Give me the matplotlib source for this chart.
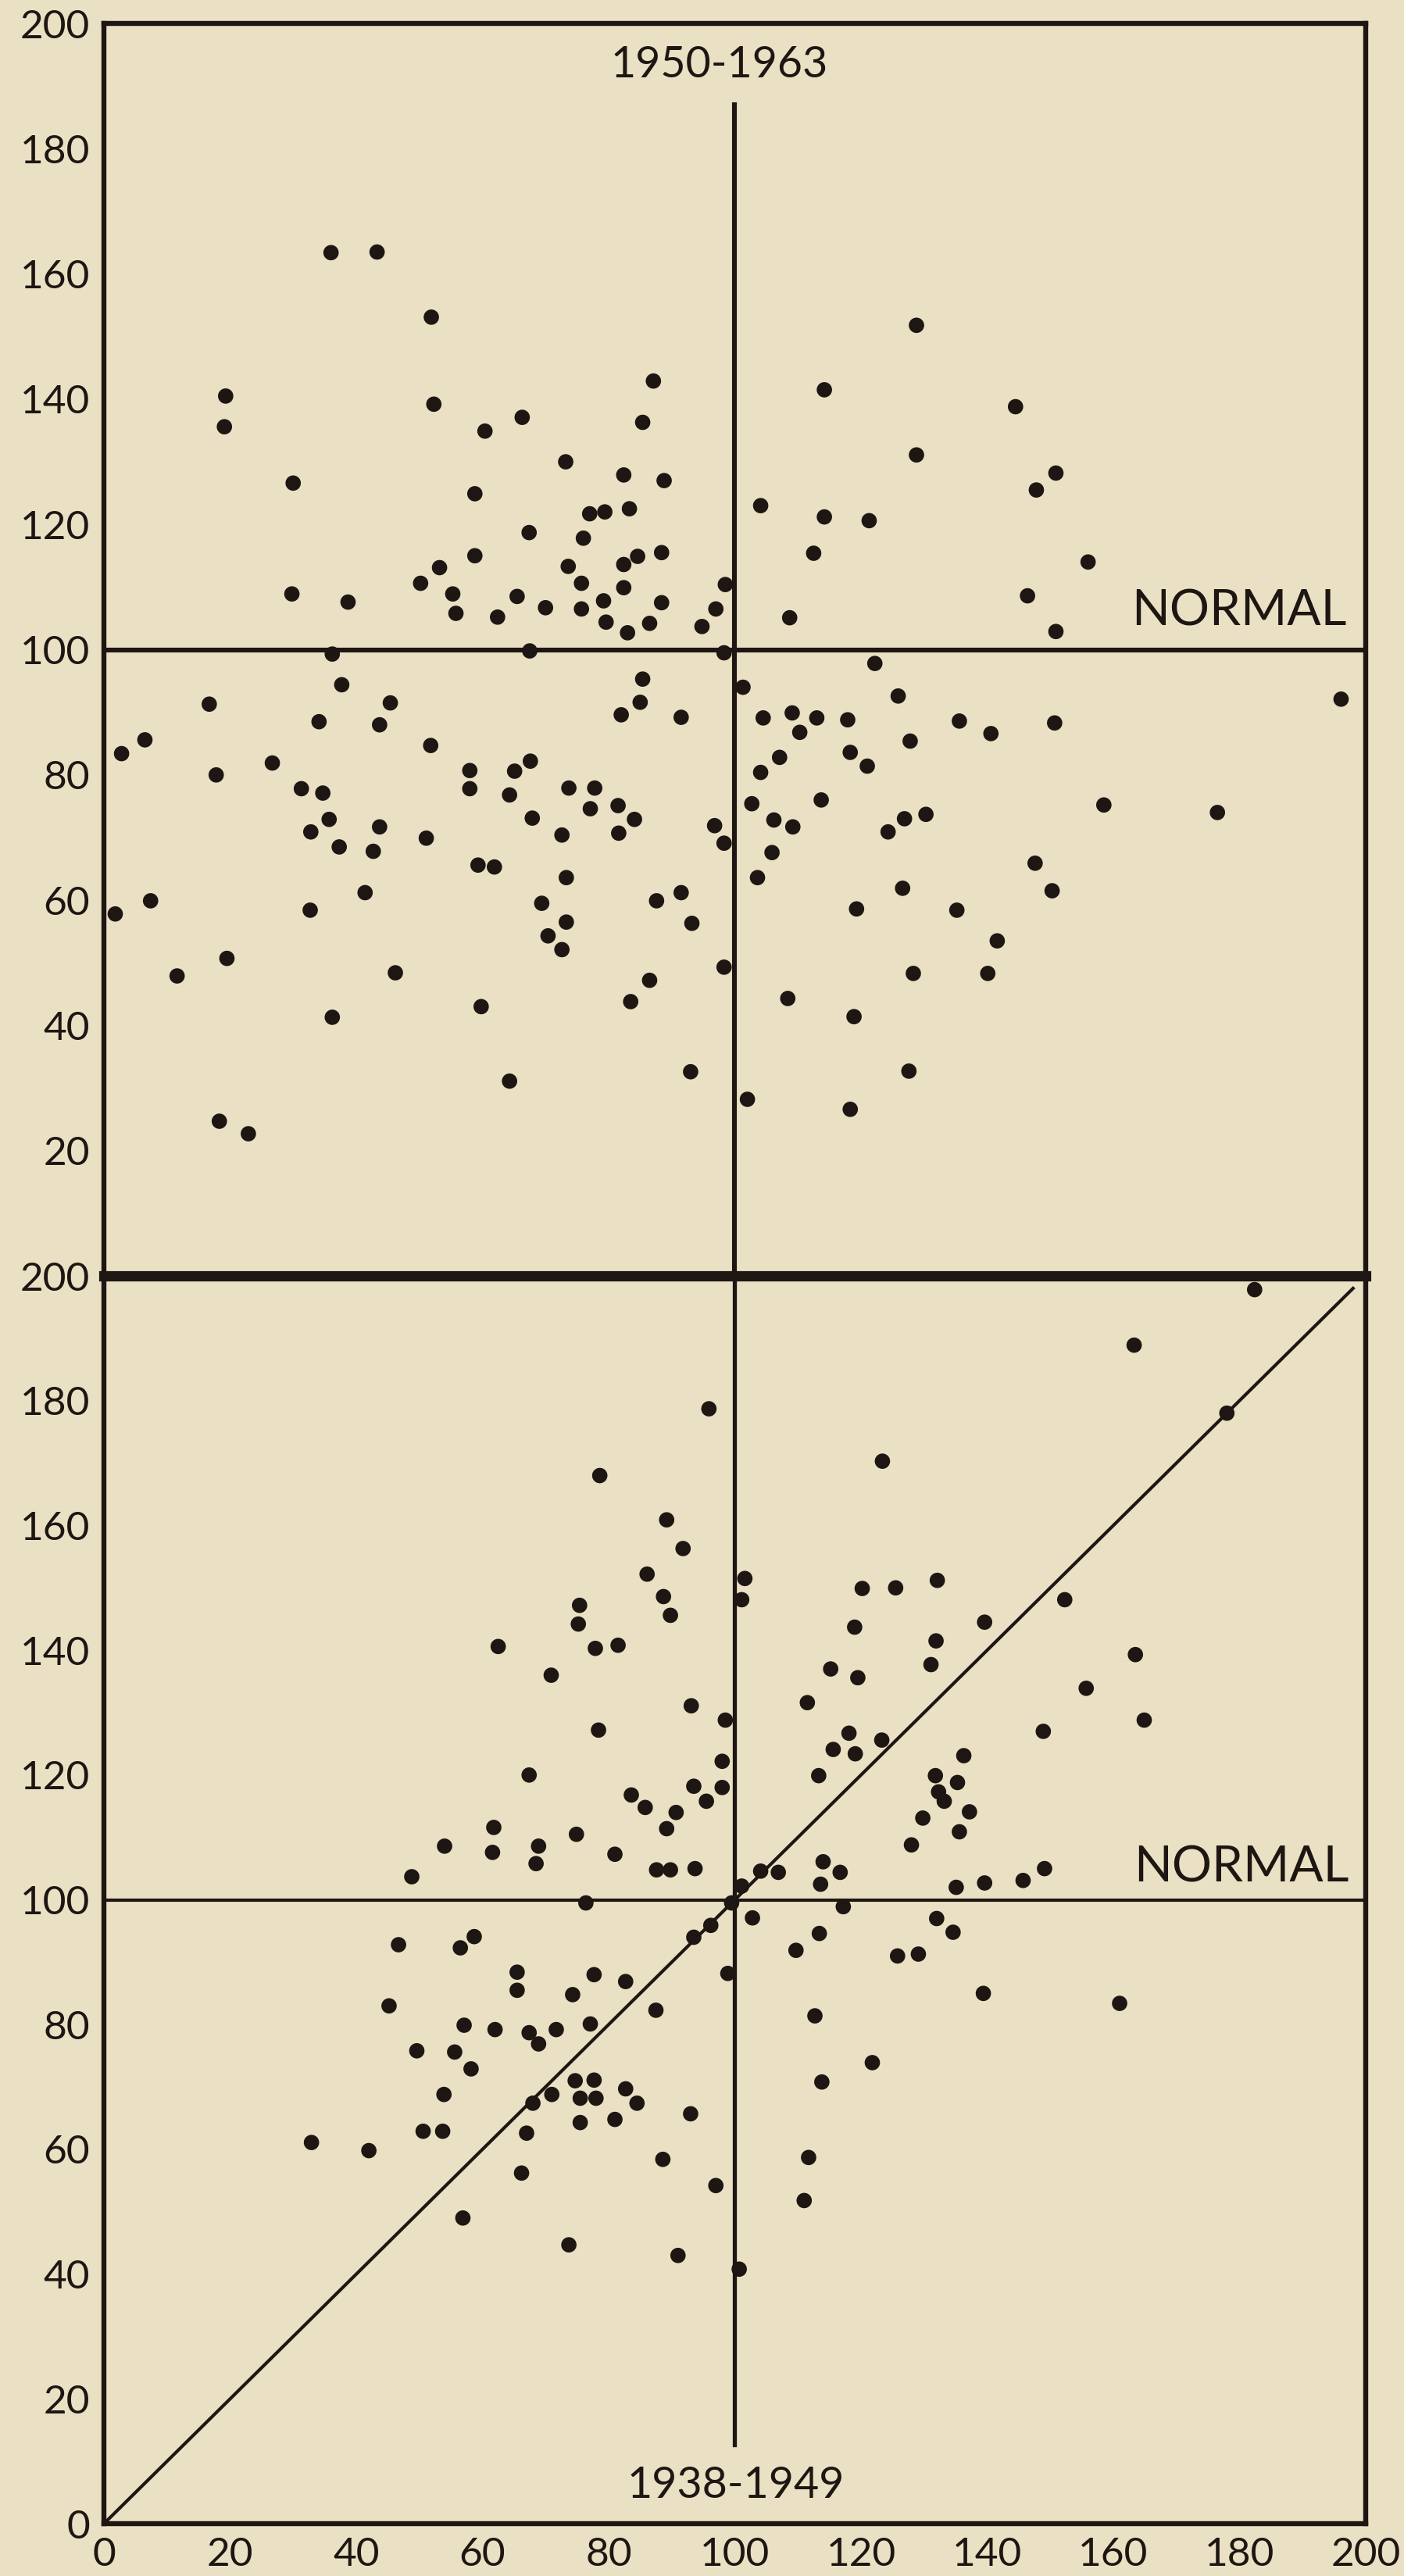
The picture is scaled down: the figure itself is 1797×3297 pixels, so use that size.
import matplotlib
matplotlib.use("Agg")
import matplotlib.pyplot as plt

# period 1950-1963 (upper panel), x = index, y = index
top_x = [36.0, 43.3, 51.9, 19.3, 19.1, 52.3, 60.4, 66.3, 87.1, 85.4, 73.2, 82.4, 88.8, 30.0,
         58.8, 77.0, 79.4, 83.3, 67.4, 76.0, 58.8, 88.4, 84.6, 82.4, 53.2, 73.6, 50.2, 75.7,
         82.4, 98.5, 29.8, 55.3, 38.7, 55.8, 65.5, 70.0, 62.4, 75.7, 79.2, 88.4, 79.6, 83.0,
         86.5, 97.0, 94.8,
         128.8, 114.2, 144.5, 128.8, 150.9, 147.8, 104.1, 114.2, 121.3, 112.5, 156.0, 146.4,
         108.7, 150.9,
         36.2, 67.5, 98.3, 37.7, 85.4, 16.7, 45.4, 85.0, 34.1, 43.7, 82.0, 91.5, 6.5, 2.8,
         51.8, 17.8, 26.7, 58.0, 58.0, 65.1, 67.6, 64.3, 31.3, 34.7, 35.7, 32.8, 37.3, 43.7,
         42.7, 51.1, 67.9, 72.6, 73.7, 77.8, 77.1, 81.5, 84.1, 81.6, 96.8, 98.3, 59.3, 61.9,
         73.3, 41.4, 1.8, 7.4, 32.7, 69.4, 70.4, 73.3, 72.6, 87.6, 91.5, 93.2, 11.6, 19.5,
         46.2, 86.5, 83.5, 98.3, 36.2, 59.8, 64.3, 93.0, 18.3, 22.9,
         122.2, 101.3, 125.9, 104.5, 109.1, 113.0, 117.9, 110.3, 127.8, 135.6, 140.6, 150.7,
         196.1, 107.1, 104.1, 118.3, 121.0, 102.7, 113.7, 106.2, 109.2, 124.3, 126.9, 130.3,
         158.5, 176.5, 105.9, 103.6, 147.6, 150.3, 126.6, 119.3, 135.2, 141.6, 140.1, 128.3,
         108.4, 118.9, 127.6, 102.0, 118.3]
top_y = [163.4, 163.5, 153.1, 140.5, 135.6, 139.2, 134.9, 137.1, 142.9, 136.3, 130.0, 127.9,
         127.0, 126.6, 124.9, 121.7, 122.0, 122.5, 118.7, 117.8, 115.0, 115.5, 114.9, 113.6,
         113.1, 113.3, 110.6, 110.6, 109.9, 110.4, 108.9, 108.9, 107.6, 105.8, 108.5, 106.7,
         105.2, 106.5, 107.8, 107.5, 104.4, 102.7, 104.2, 106.5, 103.7,
         151.8, 141.5, 138.8, 131.1, 128.2, 125.5, 123.0, 121.2, 120.6, 115.4, 114.0, 108.6,
         105.1, 102.9,
         99.3, 99.8, 99.5, 94.4, 95.3, 91.3, 91.5, 91.6, 88.5, 88.0, 89.6, 89.2, 85.6, 83.4,
         84.7, 80.0, 81.9, 80.7, 77.8, 80.6, 82.2, 76.8, 77.8, 77.1, 72.9, 70.9, 68.5, 71.7,
         67.8, 69.9, 73.1, 70.4, 77.9, 77.9, 74.6, 75.1, 72.9, 70.7, 71.9, 69.1, 65.6, 65.3,
         63.6, 61.2, 57.8, 59.9, 58.4, 59.5, 54.3, 56.5, 52.1, 59.9, 61.2, 56.3, 47.9, 50.7,
         48.4, 47.2, 43.8, 49.3, 41.3, 43.0, 31.1, 32.6, 24.7, 22.7,
         97.8, 94.0, 92.6, 89.1, 89.9, 89.1, 88.8, 86.8, 85.4, 88.6, 86.6, 88.3,
         92.1, 82.8, 80.4, 83.6, 81.4, 75.4, 76.0, 72.8, 71.7, 70.9, 73.0, 73.7,
         75.2, 74.0, 67.6, 63.6, 65.9, 61.5, 61.9, 58.6, 58.4, 53.5, 48.3, 48.3,
         44.3, 41.4, 32.7, 28.2, 26.6]

# period 1938-1949 (lower panel)
bottom_x = [95.9, 78.6, 89.2, 91.8, 86.1, 88.7, 89.8, 75.4, 75.2, 62.5, 77.9, 81.5, 70.9, 93.1,
            98.5, 78.4, 67.4, 98.0, 93.5, 98.0, 95.5, 83.6, 85.8, 90.7, 89.2, 61.8, 61.6, 54.0,
            68.9, 68.5, 74.9, 81.0, 48.8, 87.6, 89.8, 93.7, 76.4,
            182.4, 163.3, 178.0, 123.4, 101.6, 101.1, 120.2, 125.5, 132.1, 152.3, 139.6, 119.0,
            131.9, 131.1, 115.2, 119.5, 111.5, 163.5, 155.7, 164.9, 148.9, 118.1, 115.6, 119.1,
            123.3, 113.3, 136.3, 131.8, 135.3, 132.3, 133.2, 137.2, 129.8, 135.6, 128.0, 106.9,
            104.1, 114.0, 116.7, 113.6, 135.1, 139.6, 145.7, 149.1, 101.1,
            46.7, 56.5, 58.7, 45.2, 65.5, 65.5, 77.7, 82.7, 74.3, 57.1, 62.0, 67.4, 68.9, 71.7,
            77.1, 87.5, 93.5, 96.2, 98.9, 49.6, 55.6, 58.2, 53.9, 71.0, 74.7, 77.7, 75.5, 78.0,
            68.0, 82.7, 84.5, 75.5, 81.0, 93.0, 50.6, 53.7, 67.0, 32.9, 42.0, 66.2, 88.6, 97.0,
            56.9, 73.7, 91.0, 99.5,
            102.8, 113.4, 109.7, 117.2, 132.0, 134.6, 125.8, 129.1, 139.4, 161.0, 112.7, 121.8,
            113.8, 111.7, 111.0, 100.7]
bottom_y = [178.7, 168.0, 160.9, 156.3, 152.2, 148.6, 145.6, 147.2, 144.2, 140.6, 140.3, 140.8,
            136.0, 131.1, 128.8, 127.2, 120.0, 122.2, 118.2, 118.0, 115.8, 116.8, 114.8, 114.0,
            111.4, 111.6, 107.6, 108.6, 108.6, 105.8, 110.5, 107.3, 103.7, 104.8, 104.8, 105.0,
            99.5,
            197.8, 188.9, 178.0, 170.3, 151.5, 148.1, 149.9, 150.0, 151.2, 148.1, 144.5, 143.7,
            141.5, 137.7, 137.0, 135.6, 131.6, 139.3, 133.9, 128.8, 127.0, 126.7, 124.1, 123.4,
            125.6, 119.9, 123.1, 119.9, 118.8, 117.3, 115.8, 114.1, 113.1, 110.9, 108.8, 104.4,
            104.6, 106.1, 104.4, 102.5, 102.0, 102.7, 103.1, 105.0, 102.2,
            92.8, 92.3, 94.1, 83.0, 88.4, 85.5, 88.0, 86.9, 84.8, 79.9, 79.2, 78.7, 76.9, 79.2,
            80.1, 82.3, 94.0, 95.9, 88.2, 75.8, 75.6, 72.9, 68.8, 68.8, 71.0, 71.1, 68.2, 68.2,
            67.4, 69.7, 67.4, 64.3, 64.8, 65.7, 62.9, 62.9, 62.6, 61.1, 59.8, 56.2, 58.4, 54.2,
            49.0, 44.7, 43.0, 99.5,
            97.1, 94.6, 91.9, 98.9, 97.0, 94.8, 91.0, 91.3, 85.0, 83.4, 81.4, 73.9,
            70.8, 58.7, 51.8, 40.8]

top_ticks = [20, 40, 60, 80, 100, 120, 140, 160, 180, 200]
bottom_ticks = [0, 20, 40, 60, 80, 100, 120, 140, 160, 180, 200]
x_ticks = [0, 20, 40, 60, 80, 100, 120, 140, 160, 180, 200]

paper = "#eae0c4"
ink = "#1e1612"
plt.rcParams["font.family"] = ["Lato", "DejaVu Sans"]

fig = plt.figure(figsize=(17.97, 32.97), dpi=100, facecolor=paper)
ax_top = fig.add_axes([0.074, 0.5047, 0.8987, 0.4862])
ax_bot = fig.add_axes([0.074, 0.0203, 0.8987, 0.4844])

for ax in (ax_top, ax_bot):
    ax.set_facecolor(paper)
    ax.set_xlim(0, 200)
    ax.set_ylim(0, 200)
    for s in ax.spines.values():
        s.set_color(ink)
        s.set_linewidth(4.6)
    ax.tick_params(length=0, colors=ink, labelsize=37, pad=13)

# upper panel
ax_top.spines["bottom"].set_visible(False)
ax_top.set_xticks([])
ax_top.set_yticks(top_ticks)
ax_top.axhline(100, color=ink, lw=4.4)
ax_top.plot([100, 100], [0, 187], color=ink, lw=4.4)
ax_top.scatter(top_x, top_y, s=200, color=ink, edgecolors="none", zorder=3)
ax_top.text(97.6, 193.3, "1950-1963", ha="center", va="center", fontsize=40, color=ink)
ax_top.text(197, 103.9, "NORMAL", ha="right", va="baseline", fontsize=46, color=ink)

# lower panel
ax_bot.spines["top"].set_linewidth(9.5)
ax_bot.set_xticks(x_ticks)
ax_bot.set_yticks(bottom_ticks)
ax_bot.tick_params(axis="x", pad=12)
ax_bot.axhline(100, color=ink, lw=3.0)
ax_bot.plot([100, 100], [12.6, 200], color=ink, lw=3.8)
ax_bot.plot([0, 198], [0, 198], color=ink, lw=3.0)
ax_bot.scatter(bottom_x, bottom_y, s=200, color=ink, edgecolors="none", zorder=3)
ax_bot.text(100.2, 6.1, "1938-1949", ha="center", va="center", fontsize=40, color=ink)
ax_bot.text(197.4, 102.9, "NORMAL", ha="right", va="baseline", fontsize=46, color=ink)

fig.savefig("out.png", dpi=100, facecolor=paper)
